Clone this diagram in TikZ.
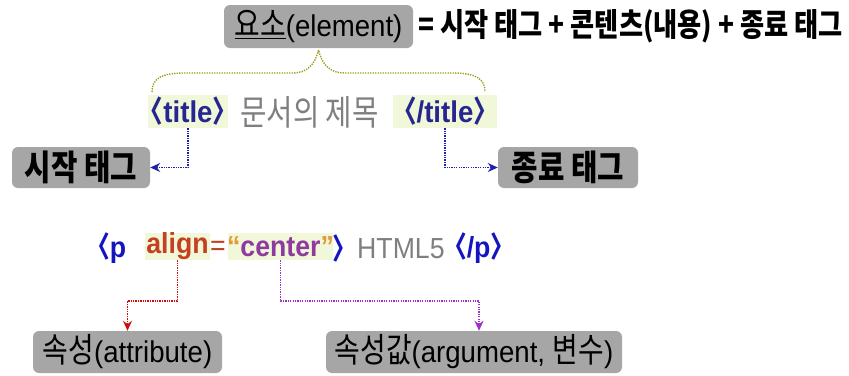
\documentclass[tikz,border=0pt]{standalone}
\usepackage{fontspec}
\setmainfont{Liberation Sans}[FakeStretch=0.92]
\newfontfamily\kr{Noto Sans CJK KR}[FakeStretch=0.82]
\usetikzlibrary{arrows.meta}
\newcommand\myfs[1]{\fontsize{#1}{32}\selectfont}
\definecolor{boxgray}{HTML}{A6A6A6}
\definecolor{hl}{HTML}{F1F8DA}
\definecolor{tagblue}{HTML}{26268F}
\definecolor{pblue}{HTML}{1515C0}
\definecolor{txtgray}{HTML}{7F7F7F}
\definecolor{attrred}{HTML}{C4401E}
\definecolor{valpurple}{HTML}{8E3A9E}
\definecolor{quoteor}{HTML}{E39A3A}
\definecolor{braceol}{HTML}{9C9C1C}
\definecolor{connblue}{HTML}{2020A8}
\definecolor{connred}{HTML}{CC1010}
\definecolor{connpur}{HTML}{A030C8}
\tikzset{
  graybox/.style={draw=none,fill=boxgray,rounded corners=6pt,inner sep=0pt,text=black},
  hlbox/.style={draw=none,fill=hl,inner sep=0pt},
  plain/.style={inner sep=0pt,anchor=west},
  conn/.style={line width=1.5pt,dash pattern=on 1.3pt off 1.1pt},
  tip/.style={-{Stealth[length=10pt,width=9pt]}},
}
\begin{document}
\begin{tikzpicture}[x=1pt,y=-1pt]
\useasboundingbox (0,0) rectangle (849,375);
% top line
\node[graybox,minimum width=189pt,minimum height=43pt] (elem) at (318.5,26.5)
  {\myfs{30}\underline{\myfs{34}\kr 요소}(element)};
\node[plain] (eq) at (418,26.5)
  {\myfs{32}\kr\bfseries = 시작 태그 + 콘텐츠(내용) + 종료 태그};
% brace
\draw[braceol,line width=1.4pt,dash pattern=on 1.3pt off 1.2pt]
  (152,92) .. controls (152,78) and (162,73) .. (185,73) -- (292,73)
  .. controls (308,73) and (315,64) .. (318.5,50)
  .. controls (322,64) and (329,73) .. (345,73) -- (452,73)
  .. controls (475,73) and (485,78) .. (485,92);
% second row
\node[hlbox,minimum width=80pt,minimum height=33pt] (t1) at (188,111.5) {};
\node[inner sep=0pt,text=tagblue] at (t1.center)
  {\myfs{30}\bfseries{\kr\kern-0.42em〈}title{\kr〉\kern-0.42em}};
\node[plain,text=txtgray] (doc) at (240,112) {\myfs{35}\kr 문서의 제목};
\node[hlbox,minimum width=104pt,minimum height=33pt] (t2) at (445,111.5) {};
\node[inner sep=0pt,text=tagblue] at (t2.center)
  {\myfs{30}\bfseries{\kr\kern-0.42em〈}/title{\kr〉\kern-0.42em}};
\node[graybox,minimum width=138pt,minimum height=41pt] (start) at (81,167.5)
  {\myfs{35}\kr\bfseries 시작 태그};
\node[graybox,minimum width=140pt,minimum height=41pt] (end) at (568,167.5)
  {\myfs{35}\kr\bfseries 종료 태그};
\draw[conn,connblue,tip] (t1.south) |- (start.east);
\draw[conn,connblue,tip] (t2.south) |- (end.west);
% third row
\node[plain,text=pblue] (popen) at (98,248)
  {\myfs{29}\bfseries{\kr\kern-0.42em〈}p};
\node[hlbox,minimum width=65pt,minimum height=27pt] (align) at (177.5,246.5) {};
\node[inner sep=0pt,text=attrred] at (align.center)
  {\myfs{29}\bfseries align};
\node[plain,text=attrred] (eqs) at (210,248) {\myfs{29}=};
\node[hlbox,minimum width=105pt,minimum height=27pt] (val) at (280.5,246.5) {};
\node[inner sep=0pt,text=valpurple] at (val.center)
  {\myfs{29}\bfseries\textcolor{quoteor}{“}center\textcolor{quoteor}{”}};
\node[plain,text=pblue] (pclose) at (332,248)
  {\myfs{29}\bfseries{\kr〉}};
\node[plain,text=txtgray] (html) at (357,249) {\myfs{29}HTML5};
\node[plain,text=pblue] (pend) at (455,248)
  {\myfs{29}\bfseries{\kr\kern-0.42em〈}/p{\kr〉}};
\node[graybox,minimum width=189pt,minimum height=42pt] (attr) at (127.5,352)
  {\myfs{30}{\myfs{34}\kr 속성}(attribute)};
\node[graybox,minimum width=296pt,minimum height=42pt] (arg) at (474,352)
  {\myfs{30}{\myfs{34}\kr 속성값}(argument, {\myfs{34}\kr 변수})};
\coordinate (ymid) at (0,301);
\coordinate (argtop) at ([xshift=5pt]arg.north);
\draw[conn,connred,tip] (align.south) -- (align.south |- ymid) -- (attr.north |- ymid) -- (attr.north);
\draw[conn,connpur,tip] (val.south) -- (val.south |- ymid) -- (argtop |- ymid) -- (argtop);
\end{tikzpicture}
\end{document}
